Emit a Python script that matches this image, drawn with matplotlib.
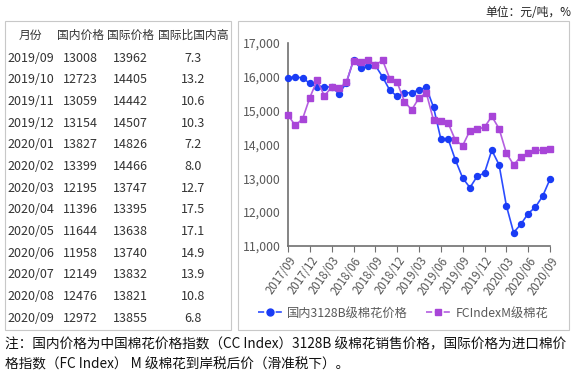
import matplotlib.pyplot as plt
from matplotlib.patches import Rectangle
from matplotlib.lines import Line2D

plt.rcParams['font.family'] = ['Noto Sans CJK SC', 'DejaVu Sans']

# table data
months = ["2019/09", "2019/10", "2019/11", "2019/12", "2020/01", "2020/02", "2020/03",
          "2020/04", "2020/05", "2020/06", "2020/07", "2020/08", "2020/09"]
dom_price = [13008, 12723, 13059, 13154, 13827, 13399, 12195, 11396, 11644, 11958, 12149, 12476, 12972]
intl_price = [13962, 14405, 14442, 14507, 14826, 14466, 13747, 13395, 13638, 13740, 13832, 13821, 13855]
ratio = ["7.3", "13.2", "10.6", "10.3", "7.2", "8.0", "12.7", "17.5", "17.1", "14.9", "13.9", "10.8", "6.8"]
headers = ["月份", "国内价格", "国际价格", "国际比国内高"]

# chart data, monthly 2017/09 - 2020/09
cc_index = [15970, 15990, 15960, 15800, 15700, 15700, 15690, 15500, 15800, 16490,
            16240, 16300, 16330, 15990, 15590, 15420, 15520, 15520, 15610, 15680,
            15090, 14160, 14160, 13540] + dom_price
fc_index = [14860, 14560, 14750, 15380, 15890, 15430, 15690, 15650, 15830, 16470,
            16420, 16490, 16340, 16480, 15930, 15830, 15260, 15020, 15370, 15520,
            14710, 14690, 14630, 14120] + intl_price
tick_labels = ["2017/09", "2017/12", "2018/03", "2018/06", "2018/09", "2018/12", "2019/03",
               "2019/06", "2019/09", "2019/12", "2020/03", "2020/06", "2020/09"]

W, H = 577, 374
fig = plt.figure(figsize=(W / 100, H / 100), dpi=100)

def fx(x):
    return x / W

def fy(y):
    return 1 - y / H

# boxes
for x0, x1 in [(5, 231), (238, 569)]:
    fig.add_artist(Rectangle((fx(x0), fy(330)), fx(x1 - x0), (330 - 21) / H,
                             fill=False, edgecolor='#c8c8c8', lw=0.8, transform=fig.transFigure))

# table
tc = '#333333'
fig.text(fx(30), fy(35), headers[0], ha='center', va='center', fontsize=8.5, color=tc)
fig.text(fx(80), fy(35), headers[1], ha='center', va='center', fontsize=8.5, color=tc)
fig.text(fx(130), fy(35), headers[2], ha='center', va='center', fontsize=8.5, color=tc)
fig.text(fx(193), fy(35), headers[3], ha='center', va='center', fontsize=8.5, color=tc)
for i in range(len(months)):
    y = fy(58 + i * 21.7)
    fig.text(fx(7), y, months[i], ha='left', va='center', fontsize=9, color=tc)
    fig.text(fx(80), y, str(dom_price[i]), ha='center', va='center', fontsize=9, color=tc)
    fig.text(fx(130), y, str(intl_price[i]), ha='center', va='center', fontsize=9, color=tc)
    fig.text(fx(193), y, ratio[i], ha='center', va='center', fontsize=9, color=tc)

# line chart
ax = fig.add_axes([fx(288), fy(246), fx(550 - 288), (246 - 42.7) / H])
x = list(range(len(cc_index)))
ax.plot(x, cc_index, color='#2b4cff', lw=1.2, marker='o', ms=4.3,
        mfc='#1a3cf5', mec='#1a3cf5', clip_on=False, zorder=3)
ax.plot(x, fc_index, color='#b45fe0', lw=1.2, marker='s', ms=4.3,
        mfc='#a845d8', mec='#a845d8', clip_on=False, zorder=3)
ax.set_xlim(0, 36)
ax.set_ylim(11000, 17000)
ax.set_yticks(range(11000, 17001, 1000))
ax.set_yticklabels([f"{v:,}" for v in range(11000, 17001, 1000)])
ax.set_xticks(range(0, 37, 3))
ax.set_xticklabels(tick_labels, rotation=55, ha='right', va='top', rotation_mode='anchor')
for s in ['top', 'right']:
    ax.spines[s].set_visible(False)
ax.spines['left'].set_color('#707070')
ax.spines['left'].set_linewidth(1.2)
ax.spines['bottom'].set_color('#707070')
ax.spines['bottom'].set_linewidth(1.2)
ax.tick_params(axis='y', length=0, labelsize=8.8, labelcolor='#595959', pad=5)
ax.tick_params(axis='x', length=4, direction='out', color='#707070', labelsize=8.3,
               labelcolor='#595959', pad=2)

handles = [Line2D([], [], color='#2b4cff', lw=1.2, ls='--', marker='o', ms=5,
                  mfc='#1a3cf5', mec='#1a3cf5'),
           Line2D([], [], color='#b45fe0', lw=1.2, ls='--', marker='s', ms=5,
                  mfc='#a845d8', mec='#a845d8')]
fig.legend(handles, ['国内3128B级棉花价格', 'FCIndexM级棉花'], loc='center',
           bbox_to_anchor=(fx(403), fy(313)), ncol=2, frameon=False, fontsize=8.8,
           handlelength=2.0, columnspacing=1.5, handletextpad=0.4,
           labelcolor='#595959')

# unit and note
fig.text(fx(571), fy(12), "单位：元/吨，%", ha='right', va='center', fontsize=8.5, color='#222222')
fig.text(fx(5), fy(344), "注：国内价格为中国棉花价格指数（CC Index）3128B 级棉花销售价格，国际价格为进口棉价",
         ha='left', va='center', fontsize=9.85, color='#111111')
fig.text(fx(5), fy(364), "格指数（FC Index） M 级棉花到岸税后价（滑准税下）。",
         ha='left', va='center', fontsize=9.85, color='#111111')

fig.savefig('out.png', dpi=100)
